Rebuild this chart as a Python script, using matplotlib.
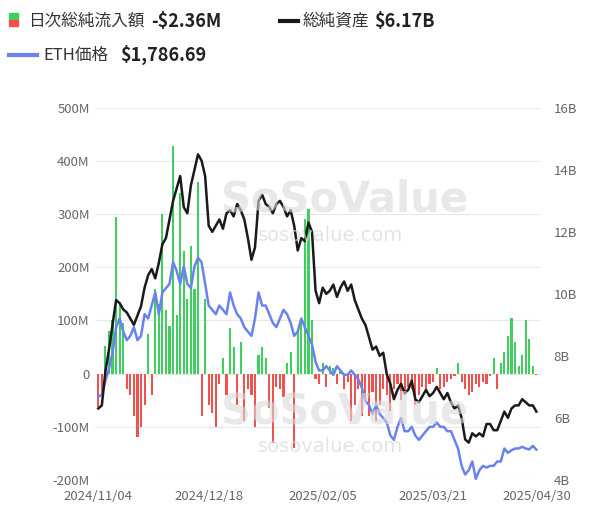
import matplotlib
matplotlib.use("Agg")
import matplotlib.pyplot as plt
from matplotlib.patches import Rectangle
import numpy as np

plt.rcParams["font.family"] = ["Noto Sans CJK JP", "DejaVu Sans"]

date_labels = ["2024/11/04", "2024/12/18", "2025/02/05", "2025/03/21", "2025/04/30"]
label_pos = [0, 31, 63, 94, 123]

flows = [
    -63, -40, 52, 80, 100, 295, 130, 95, -30, -40,
    -80, -120, -100, -60, 75, -40, 160, 130, 300, 120,
    90, 428, 110, 340, 230, 140, 240, 160, 360, -80,
    140, -60, -75, -100, -20, 30, -40, 85, 50, -60,
    60, -90, -30, -40, -100, 35, 50, 30, -65, -130,
    -25, -30, -45, 20, 40, -140, 80, 100, 290, 310,
    100, -10, -20, 20, -25, 15, 10, -20, 5, -30,
    -15, -90, -60, -30, -80, -50, -80, -35, -90, -60,
    -30, -40, -70, -30, -20, -50, -40, -25, -30, -60,
    -40, -25, -35, -20, -15, 10, -30, -25, -15, -10,
    -5, 20, -15, -30, -40, -35, -20, -25, -15, -20,
    -5, 30, -30, 20, 40, 70, 105, 60, 15, 35,
    100, 65, 15, -2,
]

assets = [
    6.3, 6.4, 7.5, 8.2, 9.0, 9.8, 9.7, 9.5, 9.4, 9.2,
    9.0, 9.3, 9.6, 10.2, 10.6, 10.8, 10.5, 11.0, 11.6, 11.8,
    12.4, 13.0, 13.4, 13.8, 12.8, 12.6, 13.5, 14.0, 14.5, 14.3,
    13.8, 12.2, 12.0, 12.2, 12.4, 12.1, 12.6, 12.7, 12.5, 12.9,
    12.7, 12.4, 11.8, 11.1, 11.5, 13.0, 13.2, 12.9, 12.8, 12.6,
    12.9, 13.0, 12.8, 12.5, 12.7, 12.2, 11.4, 11.8, 11.7, 12.3,
    12.0, 10.1, 9.7, 10.2, 10.0, 10.1, 10.3, 9.9, 10.2, 10.4,
    10.1, 10.3, 9.8, 9.5, 9.2, 9.0, 8.6, 8.2, 8.3, 8.0,
    8.1, 7.4, 7.1, 6.6, 6.9, 7.1, 6.8, 6.9, 7.2, 6.6,
    6.5, 6.7, 6.9, 6.7, 6.8, 7.0, 6.8, 6.6, 6.8, 6.5,
    6.3, 6.4, 6.0, 5.3, 5.2, 5.5, 5.4, 5.5, 5.4, 5.8,
    5.8, 5.6, 5.6, 5.9, 6.2, 6.0, 6.3, 6.4, 6.4, 6.6,
    6.5, 6.4, 6.4, 6.2,
]

eth = [
    2400, 2420, 2580, 2720, 2900, 3200, 3300, 3150, 3050, 3100,
    3200, 3050, 3100, 3350, 3300, 3450, 3600, 3350, 3600, 3650,
    3700, 3950, 3850, 3700, 3900, 3700, 3650, 3900, 4000, 3950,
    3700, 3450, 3400, 3350, 3450, 3400, 3350, 3600, 3450, 3350,
    3300, 3200, 3150, 3100, 3300, 3600, 3450, 3450, 3350, 3250,
    3200, 3300, 3400, 3350, 3250, 3100, 3150, 3300, 3200, 3100,
    3000, 2800, 2700, 2700, 2750, 2700, 2650, 2750, 2700, 2650,
    2650, 2700, 2650, 2600, 2500, 2350, 2300, 2200, 2300, 2200,
    2150, 2100, 1950, 1900, 2050, 2150, 2000, 2000, 2050, 1950,
    1900, 1950, 2000, 2050, 2050, 2100, 2050, 2050, 2000, 2000,
    1900, 1800, 1600, 1500, 1550, 1650, 1450, 1550, 1600, 1580,
    1600, 1600, 1650, 1650, 1800, 1750, 1780, 1800, 1800, 1820,
    1800, 1790, 1830, 1786.69,
]

x = np.arange(len(flows))
green, red, blue = "#3fcf5e", "#f0524f", "#6a82f0"

fig = plt.figure(figsize=(6.15, 5.29), dpi=100)
ax = fig.add_axes([0.154, 0.093, 0.724, 0.703])
ax.bar(x, flows, width=0.6, color=[green if v >= 0 else red for v in flows], zorder=2)
ax.set_ylim(-200, 500)
ax.set_yticks(range(-200, 501, 100))
ax.set_yticklabels(["-200M", "-100M", "0", "100M", "200M", "300M", "400M", "500M"])
ax.set_xlim(-1, len(flows))
ax.set_xticks(label_pos)
ax.set_xticklabels(date_labels)
ax.grid(axis="y", color="#e8e8e8", lw=0.8, zorder=0)
for s in ax.spines.values():
    s.set_visible(False)
ax.tick_params(length=0, labelsize=9.5, colors="#666666")
ax.tick_params(axis="x", pad=7)

ax3 = ax.twinx()
ax3.plot(x, eth, color=blue, lw=1.8, zorder=3)
ax3.set_ylim(1439, 5730)
ax3.axis("off")

ax2 = ax.twinx()
ax2.plot(x, assets, color="#1a1a1a", lw=1.8, zorder=4)
ax2.set_ylim(4, 16)
ax2.set_yticks([4, 6, 8, 10, 12, 14, 16])
ax2.set_yticklabels(["4B", "6B", "8B", "10B", "12B", "14B", "16B"])
for s in ax2.spines.values():
    s.set_visible(False)
ax2.tick_params(length=0, labelsize=9.5, colors="#666666", pad=10)

# watermarks
for yy in (0.6, 0.2):
    fig.text(0.36, yy, "SoSoValue", fontsize=30, fontweight="bold", color="#d9d9d9",
             alpha=0.6, fontfamily="DejaVu Sans")
    fig.text(0.42, yy - 0.055, "sosovalue.com", fontsize=14, color="#d9d9d9",
             alpha=0.7, fontfamily="DejaVu Sans")

# legend header
fig.patches.append(Rectangle((0.015, 0.963), 0.014, 0.012, color=green, transform=fig.transFigure))
fig.patches.append(Rectangle((0.015, 0.951), 0.014, 0.012, color=red, transform=fig.transFigure))
fig.text(0.045, 0.96, "日次総純流入額", fontsize=12, va="center", color="#333333")
fig.text(0.245, 0.96, "-$2.36M", fontsize=13, fontweight="bold", va="center", color="#222222")
fig.lines.append(plt.Line2D([0.455, 0.485], [0.96, 0.96], color="#1a1a1a", lw=3, transform=fig.transFigure))
fig.text(0.492, 0.96, "総純資産", fontsize=12, va="center", color="#333333")
fig.text(0.608, 0.96, "$6.17B", fontsize=13, fontweight="bold", va="center", color="#222222")
fig.lines.append(plt.Line2D([0.015, 0.06], [0.896, 0.896], color=blue, lw=3, transform=fig.transFigure))
fig.text(0.07, 0.896, "ETH価格", fontsize=12, va="center", color="#333333")
fig.text(0.195, 0.896, "$1,786.69", fontsize=13, fontweight="bold", va="center", color="#222222")

fig.savefig("out.png", dpi=100)
